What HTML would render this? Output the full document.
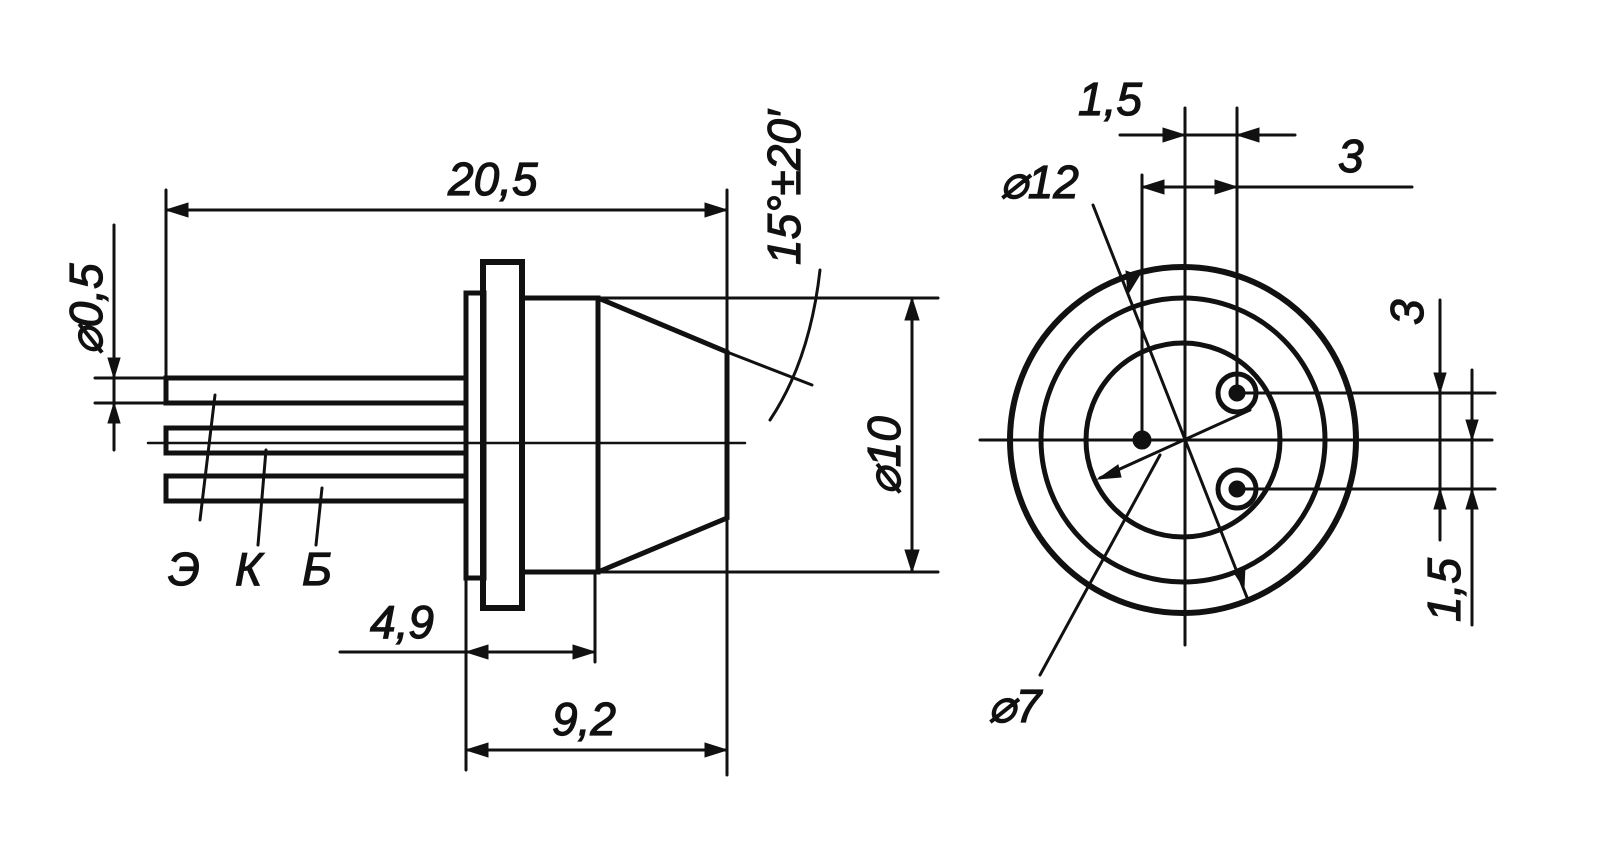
<!DOCTYPE html>
<html><head><meta charset="utf-8"><style>
html,body{margin:0;padding:0;background:#fff;}
svg{display:block;}
text{font-family:"Liberation Sans Narrow","Liberation Sans",sans-serif;font-style:italic;fill:#111;stroke:#111;stroke-width:1.2;}
</style></head><body>
<svg width="1600" height="857" viewBox="0 0 1600 857" xmlns="http://www.w3.org/2000/svg">
<g stroke="#111" fill="none" stroke-linecap="round">
<g stroke-width="5">
<rect x="166" y="378" width="300" height="25"/>
<rect x="166" y="428" width="300" height="25"/>
<rect x="166" y="476" width="300" height="25"/>
</g>
<rect x="483" y="262" width="39" height="346" stroke-width="6"/>
<rect x="466" y="293" width="18" height="285" stroke-width="5"/>
<path d="M522 298 L598 298 L598 572 L522 572" stroke-width="5"/>
<path d="M598 298 L727 352 L727 518 L598 572" stroke-width="5"/>
<line x1="148" y1="443" x2="745" y2="443" stroke-width="2.5"/>
<g stroke-width="3">
<line x1="166" y1="378" x2="166" y2="190"/>
<line x1="727" y1="190" x2="727" y2="775"/>
<line x1="166" y1="210" x2="727" y2="210"/>
<line x1="95" y1="378" x2="166" y2="378"/>
<line x1="95" y1="403" x2="166" y2="403"/>
<line x1="114" y1="225" x2="114" y2="450"/>
<line x1="200" y1="520" x2="215" y2="395"/>
<line x1="258" y1="545" x2="266" y2="450"/>
<line x1="316" y1="545" x2="322" y2="488"/>
<line x1="727" y1="352" x2="812" y2="385"/>
<path d="M820 270 Q810 360 770 420"/>
<line x1="598" y1="298" x2="938" y2="298"/>
<line x1="598" y1="572" x2="938" y2="572"/>
<line x1="912" y1="298" x2="912" y2="572"/>
<line x1="466" y1="578" x2="466" y2="770"/>
<line x1="595" y1="572" x2="595" y2="662"/>
<line x1="340" y1="652" x2="595" y2="652"/>
<line x1="466" y1="750" x2="727" y2="750"/>
</g>
<path d="M166 210 l22 -7 v14z M727 210 l-22 -7 v14z M114 378 l-6 -20 h12z M114 403 l-6 20 h12z M912 298 l-7 22 h14z M912 572 l-7 -22 h14z M466 652 l22 -7 v14z M595 652 l-22 -7 v14z M466 750 l22 -7 v14z M727 750 l-22 -7 v14z" fill="#111" stroke-width="1"/>

<circle cx="1183" cy="440" r="173" stroke-width="6"/>
<circle cx="1183" cy="440" r="142" stroke-width="5"/>
<circle cx="1183" cy="440" r="97" stroke-width="5"/>
<circle cx="1237" cy="393" r="19" stroke-width="5"/>
<circle cx="1237" cy="393" r="8" fill="#111"/>
<circle cx="1237" cy="489" r="19" stroke-width="5"/>
<circle cx="1237" cy="489" r="8" fill="#111"/>
<circle cx="1142" cy="440" r="9" fill="#111"/>
<g stroke-width="3">
<line x1="980" y1="440" x2="1492" y2="440"/>
<line x1="1185" y1="108" x2="1185" y2="645"/>
<line x1="1142" y1="175" x2="1142" y2="440"/>
<line x1="1237" y1="108" x2="1237" y2="393"/>
<line x1="1237" y1="393" x2="1495" y2="393"/>
<line x1="1237" y1="489" x2="1495" y2="489"/>
<line x1="1120" y1="135" x2="1295" y2="135"/>
<line x1="1142" y1="187" x2="1412" y2="187"/>
<line x1="1440" y1="300" x2="1440" y2="540"/>
<line x1="1472" y1="370" x2="1472" y2="625"/>
<line x1="1093" y1="205" x2="1248" y2="600"/>
<line x1="1040" y1="675" x2="1160" y2="455"/>
<line x1="1100" y1="478" x2="1250" y2="410"/>
</g>
<path d="M1185 135 l-22 -7 v14z M1237 135 l22 -7 v14z M1142 187 l22 -7 v14z M1237 187 l-22 -7 v14z M1440 393 l-6 -20 h12z M1440 489 l-6 20 h12z M1472 440 l-6 -20 h12z M1472 489 l-6 20 h12z M1128 294 l-2 -23 l13 5z M1244 588 l1 -22 l-12 5z M1098 479 l20 -14 l3 12z" fill="#111" stroke-width="1"/>
</g>
<g font-size="46">
<text x="448" y="195">20,5</text>
<text x="370" y="638">4,9</text>
<text x="552" y="735">9,2</text>
<text x="168" y="585">Э</text>
<text x="235" y="585">К</text>
<text x="302" y="585">Б</text>
<text transform="translate(102,355) rotate(-90)">⌀0,5</text>
<text transform="translate(900,495) rotate(-90)">⌀10</text>
<text transform="translate(800,265) rotate(-90)">15°±20′</text>
<text x="1078" y="115">1,5</text>
<text x="1338" y="172">3</text>
<text x="1000" y="198">⌀12</text>
<text x="988" y="722">⌀7</text>
<text transform="translate(1423,325) rotate(-90)">3</text>
<text transform="translate(1460,622) rotate(-90)">1,5</text>
</g>
</svg>
</body></html>
